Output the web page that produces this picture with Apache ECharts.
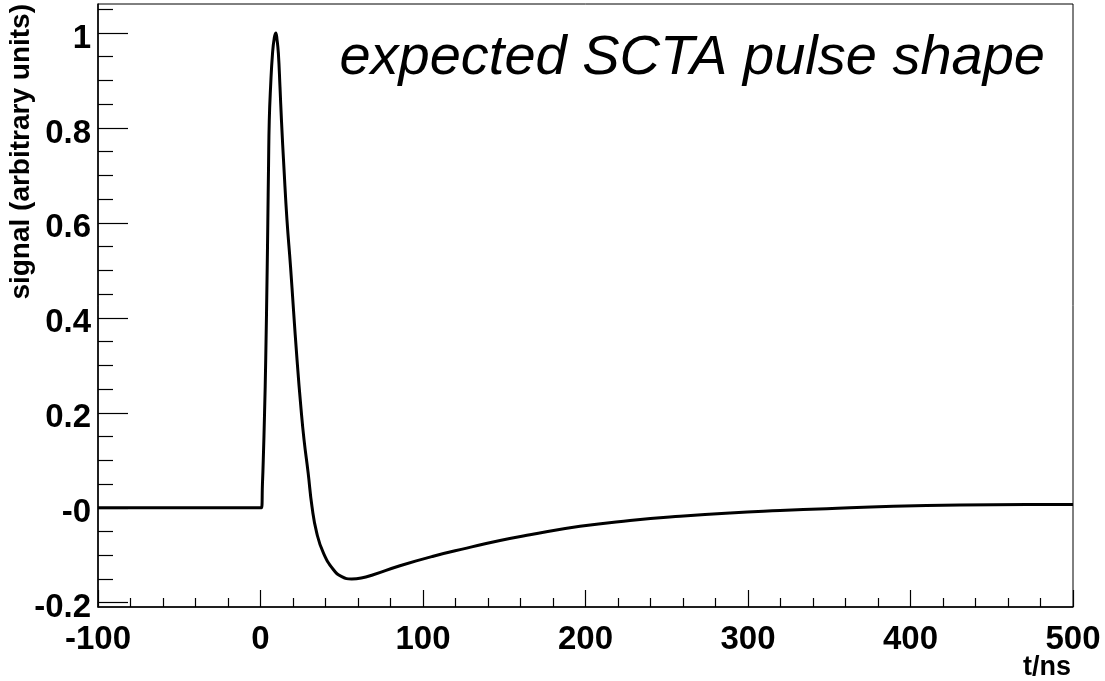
<!DOCTYPE html>
<html>
<head>
<meta charset="utf-8">
<script src="https://cdn.jsdelivr.net/npm/echarts@6/dist/echarts.min.js"></script>
<style>
html,body{margin:0;padding:0;background:#fff;}
#chart{width:1105px;height:681px;}
</style>
</head>
<body>
<div id="chart"></div>
<script>
// time in ns
var tValues = [-100, 0, 0.6, 1.2, 1.7, 2.5, 3.2, 4.1, 4.5, 4.95, 5.4, 6.2, 7.4, 8.5, 9.4, 10.2, 11.0, 12.0, 12.9, 14.5, 16.3, 18.5, 20.3, 22.5, 25.0, 26.8, 29.3, 31.7, 34.6, 38.7, 44.8, 50, 56.1, 62, 69.4, 85.8, 106.3, 126.9, 147.4, 165.8, 196.6, 227.4, 258.2, 289, 319.7, 348.4, 389.4, 430.5, 471.5, 500];
// signal (arbitrary units)
var vValues = [0, 0, 0, 0.05, 0.10, 0.20, 0.31, 0.50, 0.60, 0.72, 0.816, 0.886, 0.957, 0.99, 1.0, 0.985, 0.957, 0.886, 0.816, 0.711, 0.606, 0.507, 0.417, 0.311, 0.206, 0.143, 0.074, 0.002, -0.053, -0.095, -0.130, -0.145, -0.150, -0.148, -0.141, -0.122, -0.102, -0.085, -0.069, -0.057, -0.039, -0.027, -0.018, -0.011, -0.006, -0.002, 0.003, 0.006, 0.007, 0.007];

var xTickValues = [-100, 0, 100, 200, 300, 400, 500];
var xTickLabels = ['-100', '0', '100', '200', '300', '400', '500'];
var yTickValues = [-0.2, 0, 0.2, 0.4, 0.6, 0.8, 1.0];
var yTickLabels = ['-0.2', '-0', '0.2', '0.4', '0.6', '0.8', '1'];
var yMinorValues = [-0.15, -0.1, -0.05, 0.05, 0.1, 0.15, 0.25, 0.3, 0.35, 0.45, 0.5, 0.55, 0.65, 0.7, 0.75, 0.85, 0.9, 0.95, 1.05];

var titleText = 'expected SCTA pulse shape';
var xTitle = 't/ns';
var yTitle = 'signal (arbitrary units)';

function lookup(vals, labels, v) {
  for (var i = 0; i < vals.length; i++) if (Math.abs(vals[i] - v) < 1e-6) return labels[i];
  return '';
}

var data = tValues.map(function (t, i) { return [t, vValues[i]]; });
var FONT = 'Liberation Sans';
var yMin = -0.209, yMax = 1.061;

var chart = echarts.init(document.getElementById('chart'), null, {renderer: 'canvas'});
chart.setOption({
  animation: false,
  backgroundColor: '#ffffff',
  grid: {left: 98, right: 32, top: 4, bottom: 74, show: true, borderColor: '#000', borderWidth: 1, backgroundColor: 'transparent'},
  xAxis: {
    type: 'value', min: -100, max: 500, interval: 100,
    axisLine: {show: true, onZero: false, lineStyle: {color: '#000', width: 1.5}},
    axisTick: {show: true, inside: true, length: 17, lineStyle: {color: '#000', width: 1.2}},
    minorTick: {show: true, splitNumber: 5, length: 9, lineStyle: {color: '#000', width: 1.2}},
    splitLine: {show: false},
    axisLabel: {
      color: '#000', fontFamily: FONT, fontWeight: 'bold', fontSize: 33, margin: 16,
      formatter: function (v) { return lookup(xTickValues, xTickLabels, v); }
    }
  },
  yAxis: [{
    type: 'value', min: yMin, max: yMax,
    axisLine: {show: true, onZero: false, lineStyle: {color: '#000', width: 1.5}},
    axisTick: {show: true, inside: true, length: 30, customValues: yTickValues, lineStyle: {color: '#000', width: 1.2}},
    splitLine: {show: false},
    axisLabel: {
      color: '#000', fontFamily: FONT, fontWeight: 'bold', fontSize: 33, margin: 7,
      customValues: yTickValues, verticalAlign: 'top', lineHeight: 11,
      formatter: function (v) { return lookup(yTickValues, yTickLabels, v); }
    }
  }, {
    type: 'value', min: yMin, max: yMax, position: 'left',
    axisLine: {show: false, onZero: false},
    axisTick: {show: true, inside: true, length: 15, customValues: yMinorValues, lineStyle: {color: '#000', width: 1.2}},
    axisLabel: {show: false},
    splitLine: {show: false}
  }],
  graphic: [
    {type: 'text', x: 1045, y: 58, style: {text: titleText, font: 'italic 56px "Liberation Sans"', fill: '#000', textAlign: 'right', textVerticalAlign: 'middle'}},
    {type: 'text', x: 1071, y: 668, style: {text: xTitle, font: 'bold 27px "Liberation Sans"', fill: '#000', textAlign: 'right', textVerticalAlign: 'middle'}},
    {type: 'text', x: 21, y: 4, rotation: Math.PI / 2, style: {text: yTitle, font: 'bold 28px "Liberation Sans"', fill: '#000', textAlign: 'right', textVerticalAlign: 'middle'}}
  ],
  series: [{
    type: 'line', data: data, yAxisIndex: 0,
    showSymbol: false, smooth: 0.5,
    lineStyle: {color: '#000', width: 3},
    clip: true
  }]
});
</script>
</body>
</html>
